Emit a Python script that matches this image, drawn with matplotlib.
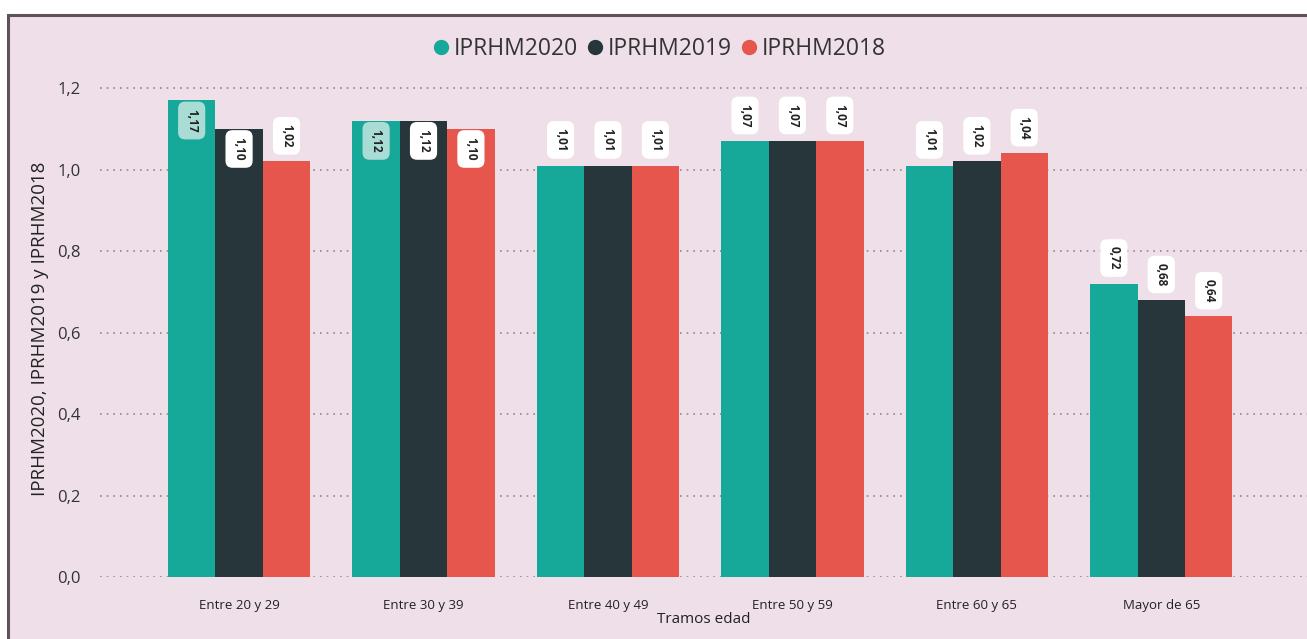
import matplotlib.pyplot as plt
import numpy as np
from matplotlib.patches import Rectangle

plt.rcParams['font.family'] = ['Open Sans', 'DejaVu Sans']

# data
categories = ["Entre 20 y 29", "Entre 30 y 39", "Entre 40 y 49",
              "Entre 50 y 59", "Entre 60 y 65", "Mayor de 65"]
series_names = ["IPRHM2020", "IPRHM2019", "IPRHM2018"]
iprhm2020 = [1.17, 1.12, 1.01, 1.07, 1.01, 0.72]
iprhm2019 = [1.10, 1.12, 1.01, 1.07, 1.02, 0.68]
iprhm2018 = [1.02, 1.10, 1.01, 1.07, 1.04, 0.64]
yticks = [0.0, 0.2, 0.4, 0.6, 0.8, 1.0, 1.2]

colors = ["#16A899", "#27363B", "#E6564C"]
inner_box = ["#A9DCD5", "white", "white"]
bg = "#EEDFE8"

fig = plt.figure(figsize=(13.07, 6.39), dpi=100)
fig.patch.set_facecolor("white")

# card background and frame, behind everything
back = fig.add_axes([0, 0, 1, 1], zorder=-1)
back.axis("off")
back.add_patch(Rectangle((8 / 1307, -0.1), 1.2, 1 - 15 / 639 + 0.1,
                         transform=back.transAxes, facecolor=bg,
                         edgecolor="#5E5458", linewidth=2.2, clip_on=False))

ax = fig.add_axes([100 / 1307, 62 / 639, 1 - 100 / 1307, (577 - 80) / 639], zorder=1)
ax.set_facecolor("none")

x = np.arange(len(categories))
w = 0.257
for i, vals in enumerate([iprhm2020, iprhm2019, iprhm2018]):
    pos = x + (i - 1) * w
    ax.bar(pos, vals, width=w, color=colors[i], label=series_names[i], zorder=3)
    for p, v in zip(pos, vals):
        txt = f"{v:.2f}".replace(".", ",")
        if v >= 1.08:
            ax.annotate(txt, (p, v), xytext=(0, -6), textcoords="offset points",
                        rotation=-90, ha="center", va="top", fontsize=8.5,
                        fontweight="bold", color="#222222", zorder=5,
                        bbox=dict(boxstyle="round,pad=0.6", fc=inner_box[i], ec="none"))
        else:
            ax.annotate(txt, (p, v), xytext=(0, 10), textcoords="offset points",
                        rotation=-90, ha="center", va="bottom", fontsize=8.5,
                        fontweight="bold", color="#222222", zorder=5,
                        bbox=dict(boxstyle="round,pad=0.6", fc="white", ec="none"))

ax.set_xlim(-0.754, 5.79)
ax.set_ylim(0, 1.22)
ax.set_yticks(yticks)
ax.set_yticklabels([f"{t:.1f}".replace(".", ",") for t in yticks], fontsize=12, color="#333333")
ax.set_xticks(x)
ax.set_xticklabels(categories, fontsize=9.5, color="#222222")
ax.tick_params(length=0, pad=16)
ax.tick_params(axis="y", pad=14)
for s in ax.spines.values():
    s.set_visible(False)
ax.grid(axis="y", linestyle=(0, (1, 3)), color="#8F8A8D", linewidth=1.2, zorder=0)
ax.set_axisbelow(True)

ax.set_xlabel("Tramos edad", fontsize=11, color="#222222", labelpad=0)
ax.set_ylabel("IPRHM2020, IPRHM2019 y IPRHM2018", fontsize=13.5, color="#222222", labelpad=6)

fig.legend(loc="center", bbox_to_anchor=(660 / 1307, 1 - 49 / 639), ncol=3,
           frameon=False, fontsize=16.5, handlelength=0.6, handletextpad=0.25,
           columnspacing=0.45, labelcolor="#333333",
           handles=[plt.Line2D([], [], marker="o", ls="none", color=c, markersize=10)
                    for c in colors],
           labels=series_names)

fig.savefig("out.png", dpi=100, facecolor=fig.get_facecolor())
